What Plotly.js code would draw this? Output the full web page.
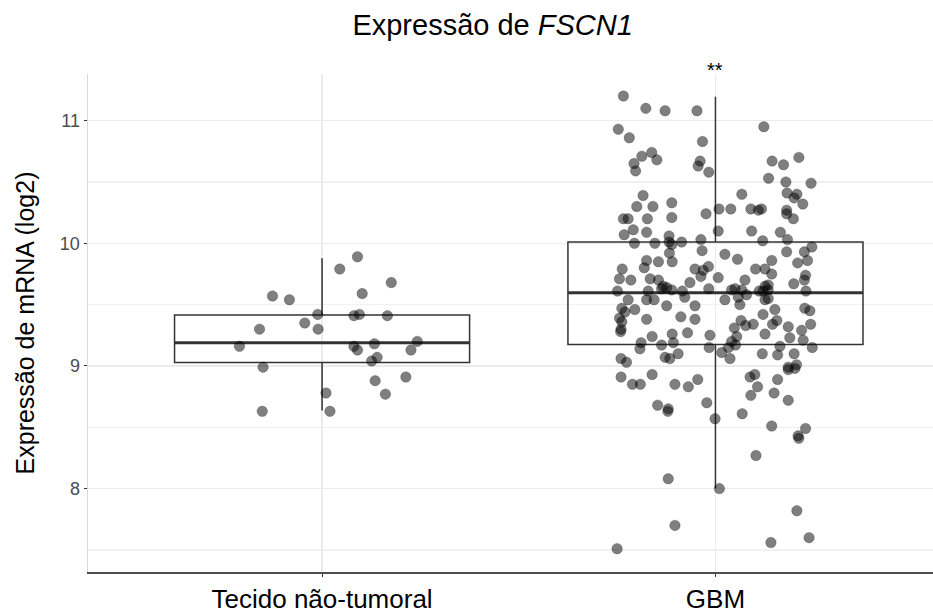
<!DOCTYPE html>
<html>
<head>
<meta charset="utf-8">
<script src="https://cdn.plot.ly/plotly-3.0.1.min.js"></script>
<style>html,body{margin:0;padding:0;background:#fff;}#chart{width:933px;height:614px;}</style>
</head>
<body>
<div id="chart"></div>
<script>
// ---- data ----
var categories = ["Tecido não-tumoral", "GBM"];

// box statistics per category (log2 expression)
var boxQ1 = [9.027, 9.174];
var boxMedian = [9.19, 9.597];
var boxQ3 = [9.416, 10.01];
var boxLower = [8.636, 8.003];
var boxUpper = [9.878, 11.195];

// non-tumoral tissue samples: expression values and horizontal jitter (category units)
var normalValues = [9.89, 9.79, 9.68, 9.59, 9.57, 9.54, 9.42, 9.41, 9.42, 9.41, 9.35, 9.30, 9.30, 9.16,
  9.16, 9.13, 9.18, 9.13, 9.20, 9.04, 9.07, 8.99, 8.91, 8.88, 8.77, 8.78, 8.63, 8.63];
var normalJitter = [0.090, 0.045, 0.176, 0.102, -0.126, -0.083, -0.011, 0.081, 0.095, 0.166, -0.044, -0.010, -0.159, -0.210,
  0.081, 0.090, 0.133, 0.226, 0.242, 0.126, 0.140, -0.150, 0.213, 0.135, 0.161, 0.010, -0.152, 0.020];

// GBM samples: expression values and horizontal jitter (category units)
var gbmValues = [
  11.20, 11.10, 11.08, 11.08, 10.93, 10.86, 10.95, 10.83, 10.74, 10.71, 10.68, 10.65, 10.59, 10.67,
  10.63, 10.58, 10.67, 10.64, 10.70, 10.53, 10.50, 10.49, 10.39, 10.40, 10.41, 10.40, 10.37, 10.32,
  10.30, 10.30, 10.33, 10.21, 10.20, 10.20, 10.20, 10.11, 10.07, 10.09, 10.06, 10.24, 10.28, 10.28,
  10.28, 10.27, 10.28, 10.27, 10.24, 10.20, 10.10, 10.10, 10.09, 10.03, 10.00, 10.00, 10.01, 9.99,
  10.01, 10.03, 10.02, 9.97, 9.92, 9.94, 9.91, 9.87, 9.93, 9.93, 9.86, 9.85, 9.85, 9.80,
  9.79, 9.79, 9.78, 9.81, 9.73, 9.72, 9.79, 9.79, 9.86, 9.75, 9.84, 9.86, 9.74, 9.70,
  9.71, 9.70, 9.71, 9.70, 9.68, 9.70, 9.65, 9.66, 9.67, 9.65, 9.64,
  9.61, 9.54, 9.54, 9.54, 9.61, 9.63, 9.62, 9.61, 9.56, 9.63, 9.54, 9.62, 9.63, 9.62,
  9.56, 9.50, 9.58, 9.61, 9.61, 9.62, 9.54, 9.55, 9.61, 9.49, 9.49, 9.47, 9.44, 9.46,
  9.39, 9.36, 9.30, 9.28, 9.38, 9.40, 9.38, 9.42, 9.46, 9.37, 9.47, 9.45, 9.34, 9.29,
  9.31, 9.37, 9.33, 9.34, 9.34, 9.32, 9.26, 9.27, 9.26, 9.25, 9.24, 9.20, 9.15, 9.11,
  9.17, 9.24, 9.19, 9.14, 9.17, 9.19, 9.15, 9.16, 9.23, 9.21, 9.15, 9.07, 9.06, 9.10,
  9.06, 9.03, 9.06, 9.10, 9.09, 9.10, 8.99, 9.01,
  8.91, 8.85, 8.85, 8.93, 8.85, 8.83, 8.89, 8.68, 8.63, 8.65, 8.70, 8.57, 8.61, 8.91,
  8.93, 8.83, 8.76, 8.89, 8.78, 8.72, 8.97, 8.98, 8.51, 8.49, 8.41, 8.43, 8.27,
  8.08, 8.00, 7.82, 7.70, 7.51, 7.56, 7.60];
var gbmJitter = [
  -0.234, -0.177, -0.128, -0.047, -0.247, -0.219, 0.123, -0.033, -0.162, -0.187, -0.149, -0.207, -0.203, -0.039,
  -0.044, -0.017, 0.144, 0.173, 0.212, 0.135, 0.179, 0.243, -0.184, 0.067, 0.182, 0.207, 0.200, 0.222,
  -0.200, -0.159, -0.111, -0.111, -0.173, -0.234, -0.222, -0.209, -0.232, -0.175, -0.118, -0.024, 0.009, 0.039,
  0.090, 0.109, 0.117, 0.181, 0.181, 0.198, 0.007, 0.092, 0.165, 0.183, -0.206, -0.154, -0.118, -0.111,
  -0.086, -0.037, 0.120, 0.245, -0.117, -0.034, 0.024, 0.056, 0.181, 0.226, -0.175, -0.145, -0.110, -0.181,
  -0.237, -0.052, -0.031, -0.018, -0.037, 0.007, 0.102, 0.126, 0.143, 0.143, 0.209, 0.234, 0.229, 0.226,
  -0.244, -0.215, -0.166, -0.145, -0.065, 0.075, 0.126, 0.134, 0.199, -0.133, -0.124,
  -0.249, -0.222, -0.175, -0.156, -0.171, -0.137, -0.111, -0.084, -0.078, -0.017, 0.024, 0.041, 0.050, 0.067,
  0.058, 0.062, 0.079, 0.111, 0.121, 0.134, 0.126, 0.134, 0.230, -0.124, -0.052, -0.238, -0.230, -0.205,
  -0.244, -0.238, -0.240, -0.241, -0.175, -0.088, -0.052, 0.121, 0.151, 0.156, 0.227, 0.240, 0.242, 0.219,
  0.048, 0.065, 0.077, 0.096, 0.145, 0.185, 0.126, -0.071, -0.110, -0.014, 0.054, 0.041, 0.033, 0.016,
  0.051, -0.161, -0.189, -0.192, -0.137, -0.107, -0.016, 0.164, 0.189, 0.223, 0.246, -0.128, -0.116, -0.095,
  -0.240, -0.226, 0.037, 0.119, 0.158, 0.200, 0.185, 0.206,
  -0.240, -0.211, -0.191, -0.161, -0.103, -0.069, -0.045, -0.147, -0.121, -0.120, -0.022, -0.001, 0.068, 0.088,
  0.100, 0.107, 0.090, 0.158, 0.149, 0.185, 0.185, 0.202, 0.143, 0.229, 0.212, 0.210, 0.103,
  -0.120, 0.010, 0.207, -0.103, -0.250, 0.141, 0.238];

var yTickVals = [8, 9, 10, 11];
var yTickText = ["8", "9", "10", "11"];
var annotationText = "**";

// ---- styles ----
var FONT = "Liberation Sans, Arial, Helvetica, sans-serif";
var BOX_WIDTH = 0.75;
var LINE_COLOR = "#333333";
var positions = [1, 2];

var traces = [];
for (var i = 0; i < categories.length; i++) {
  traces.push({
    type: "box",
    x: [positions[i]],
    q1: [boxQ1[i]], median: [boxMedian[i]], q3: [boxQ3[i]],
    lowerfence: [boxLower[i]], upperfence: [boxUpper[i]],
    width: BOX_WIDTH,
    whiskerwidth: 0,
    boxpoints: false,
    fillcolor: "rgba(255,255,255,0)",
    line: {color: LINE_COLOR, width: 1.5},
    hoverinfo: "skip",
    showlegend: false
  });
  // thicker median segment (ggplot style)
  traces.push({
    type: "scatter", mode: "lines",
    x: [positions[i] - BOX_WIDTH / 2, positions[i] + BOX_WIDTH / 2],
    y: [boxMedian[i], boxMedian[i]],
    line: {color: LINE_COLOR, width: 3},
    hoverinfo: "skip", showlegend: false
  });
}

function jittered(pos, jit) { return jit.map(function (j) { return pos + j; }); }

var pointStyle = {size: 10.5, color: "rgba(0,0,0,0.5)", line: {color: "rgba(0,0,0,0.22)", width: 1}};
traces.push({type: "scatter", mode: "markers", x: jittered(positions[0], normalJitter), y: normalValues,
  marker: pointStyle, hoverinfo: "y", showlegend: false, cliponaxis: false});
traces.push({type: "scatter", mode: "markers", x: jittered(positions[1], gbmJitter), y: gbmValues,
  marker: pointStyle, hoverinfo: "y", showlegend: false, cliponaxis: false});

var layout = {
  width: 933, height: 614,
  margin: {l: 88, r: 0, t: 74, b: 42},
  paper_bgcolor: "#ffffff", plot_bgcolor: "#ffffff",
  font: {family: FONT, color: "#000"},
  title: {
    text: "Expressão de <i>FSCN1</i>",
    font: {family: FONT, size: 29, color: "#000"},
    xref: "container", x: 0.528, xanchor: "center",
    yref: "container", y: 0.959, yanchor: "middle"
  },
  xaxis: {
    range: [0.405, 2.553],
    tickmode: "array", tickvals: positions, ticktext: categories,
    tickfont: {family: FONT, size: 26, color: "#000"},
    showgrid: true, gridcolor: "#ebebeb", gridwidth: 1.5,
    showline: true, linecolor: "#4d4d4d", linewidth: 2,
    ticks: "outside", ticklen: 3, tickcolor: "#333", tickwidth: 1,
    zeroline: false, fixedrange: true
  },
  yaxis: {
    range: [7.32, 11.38],
    tickmode: "array", tickvals: yTickVals, ticktext: yTickText,
    tickfont: {family: FONT, size: 18, color: "#4d4d4d"},
    showgrid: true, gridcolor: "#ebebeb", gridwidth: 1.5,
    minor: {dtick: 0.5, tick0: 7.5, showgrid: true, gridcolor: "#f1f1f1", gridwidth: 1.2, ticks: ""},
    showline: true, linecolor: "#d9d9d9", linewidth: 1.5,
    ticks: "outside", ticklen: 3, tickcolor: "#333", tickwidth: 1,
    zeroline: false, fixedrange: true,
    title: {text: "Expressão de mRNA (log2)", font: {family: FONT, size: 25, color: "#000"}, standoff: 18}
  },
  annotations: [{
    x: positions[1], y: boxUpper[1], xref: "x", yref: "y",
    text: annotationText, showarrow: false, yanchor: "bottom", yshift: 14,
    font: {family: FONT, size: 20, color: "#000"}
  }],
  hovermode: false
};

Plotly.newPlot("chart", traces, layout, {staticPlot: true, displayModeBar: false});
</script>
</body>
</html>
